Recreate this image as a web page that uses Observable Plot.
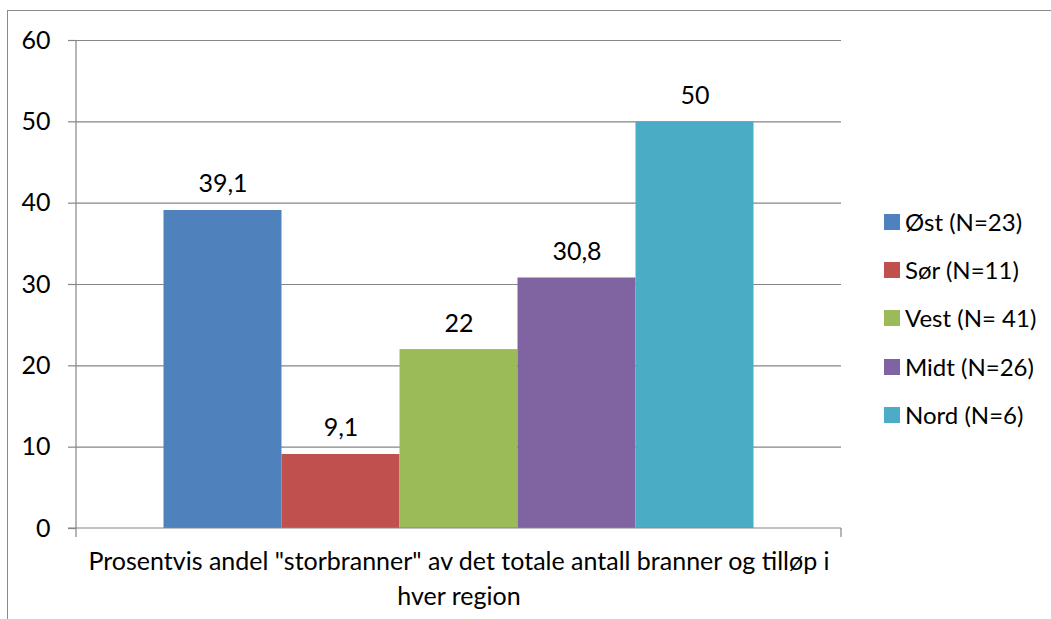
<!DOCTYPE html>
<html>
<head>
<meta charset="utf-8">
<script src="https://cdn.jsdelivr.net/npm/d3@7"></script>
<script src="https://cdn.jsdelivr.net/npm/@observablehq/plot@0.6"></script>
<style>
  html, body { margin: 0; padding: 0; background: #fff; }
  #wrap { position: relative; width: 1051px; height: 619px; overflow: hidden; font-family: Lato, "Open Sans", sans-serif; }
  #border { position: absolute; left: 7px; top: 10px; width: 1100px; height: 700px; border: 1px solid #8a8a8a; box-sizing: border-box; }
  #chart { position: absolute; left: 0; top: 0; }
  #legend { position: absolute; left: 884px; top: 0; }
  .item { position: absolute; left: 0; white-space: nowrap; display: flex; align-items: center; font-size: 24px; color: #000; line-height: 1; }
  .sw { width: 16px; height: 16px; margin-right: 5px; flex: none; }
</style>
</head>
<body>
<div id="wrap">
  <div id="border"></div>
  <div id="chart"></div>
  <div id="legend"></div>
</div>
<script>
const regions = ["Øst", "Sør", "Vest", "Midt", "Nord"];
const legendLabels = ["Øst (N=23)", "Sør (N=11)", "Vest (N= 41)", "Midt (N=26)", "Nord (N=6)"];
const values = [39.1, 9.1, 22, 30.8, 50];
const colors = ["#4F81BD", "#C0504D", "#9BBB59", "#8064A2", "#4BACC6"];
const yTicks = [0, 10, 20, 30, 40, 50, 60];
const xTitle = "Prosentvis andel \"storbranner\" av det totale antall branner og tilløp i\nhver region";

const data = regions.map((r, i) => ({region: r, value: values[i]}));
const fmt = v => String(v).replace(".", ",");
const gray = "#868686";
const FONT = "Lato, 'Open Sans', sans-serif";

function axisFrame(index, scales, vals, dims) {
  const y = scales.y;
  const left = dims.marginLeft;
  const right = dims.width - dims.marginRight;
  const y0 = y(0);
  const yTop = y(d3.max(yTicks));
  const p = d3.path();
  p.moveTo(left, yTop); p.lineTo(left, y0 + 9);
  p.moveTo(left - 8, y0); p.lineTo(right, y0);
  p.moveTo(right, y0); p.lineTo(right, y0 + 9);
  const g = d3.create("svg:path")
    .attr("d", p.toString())
    .attr("fill", "none")
    .attr("stroke", gray)
    .attr("stroke-width", 1.2);
  return g.node();
}

const chart = Plot.plot({
  width: 1051,
  height: 619,
  marginLeft: 76,
  marginRight: 210,
  marginTop: 40,
  marginBottom: 91,
  style: {fontFamily: FONT, background: "transparent", color: "#000"},
  x: {domain: regions, paddingInner: 0, paddingOuter: 0.7415, round: false, axis: null},
  y: {domain: [0, 60], axis: null},
  color: {domain: regions, range: colors},
  marks: [
    Plot.ruleY(yTicks.filter(t => t > 0), {y: d => d, stroke: gray, strokeWidth: 1.2}),
    Plot.axisY({ticks: yTicks, label: null, tickSize: 8, tickPadding: 18, stroke: gray, strokeWidth: 1.2, fontSize: 25, fill: "#000", tickFormat: d => String(d)}),
    Plot.barY(data, {x: "region", y: "value", fill: "region"}),
    axisFrame,
    Plot.text(data, {x: "region", y: "value", text: d => fmt(d.value), lineAnchor: "bottom", dy: -18, fontSize: 25, fill: "#000"}),
    Plot.text([xTitle], {frameAnchor: "bottom", lineAnchor: "top", dy: 17, lineHeight: 1.4, fontSize: 25, fill: "#000", text: d => d})
  ]
});
document.getElementById("chart").appendChild(chart);

const legend = document.getElementById("legend");
const rowCenters = [222, 270, 318, 367, 415];
legendLabels.forEach((lab, i) => {
  const it = document.createElement("div");
  it.className = "item";
  it.style.top = (rowCenters[i] - 12) + "px";
  it.style.height = "24px";
  const sw = document.createElement("span");
  sw.className = "sw";
  sw.style.background = colors[i];
  const t = document.createElement("span");
  t.textContent = lab;
  it.appendChild(sw); it.appendChild(t);
  legend.appendChild(it);
});
</script>
</body>
</html>
